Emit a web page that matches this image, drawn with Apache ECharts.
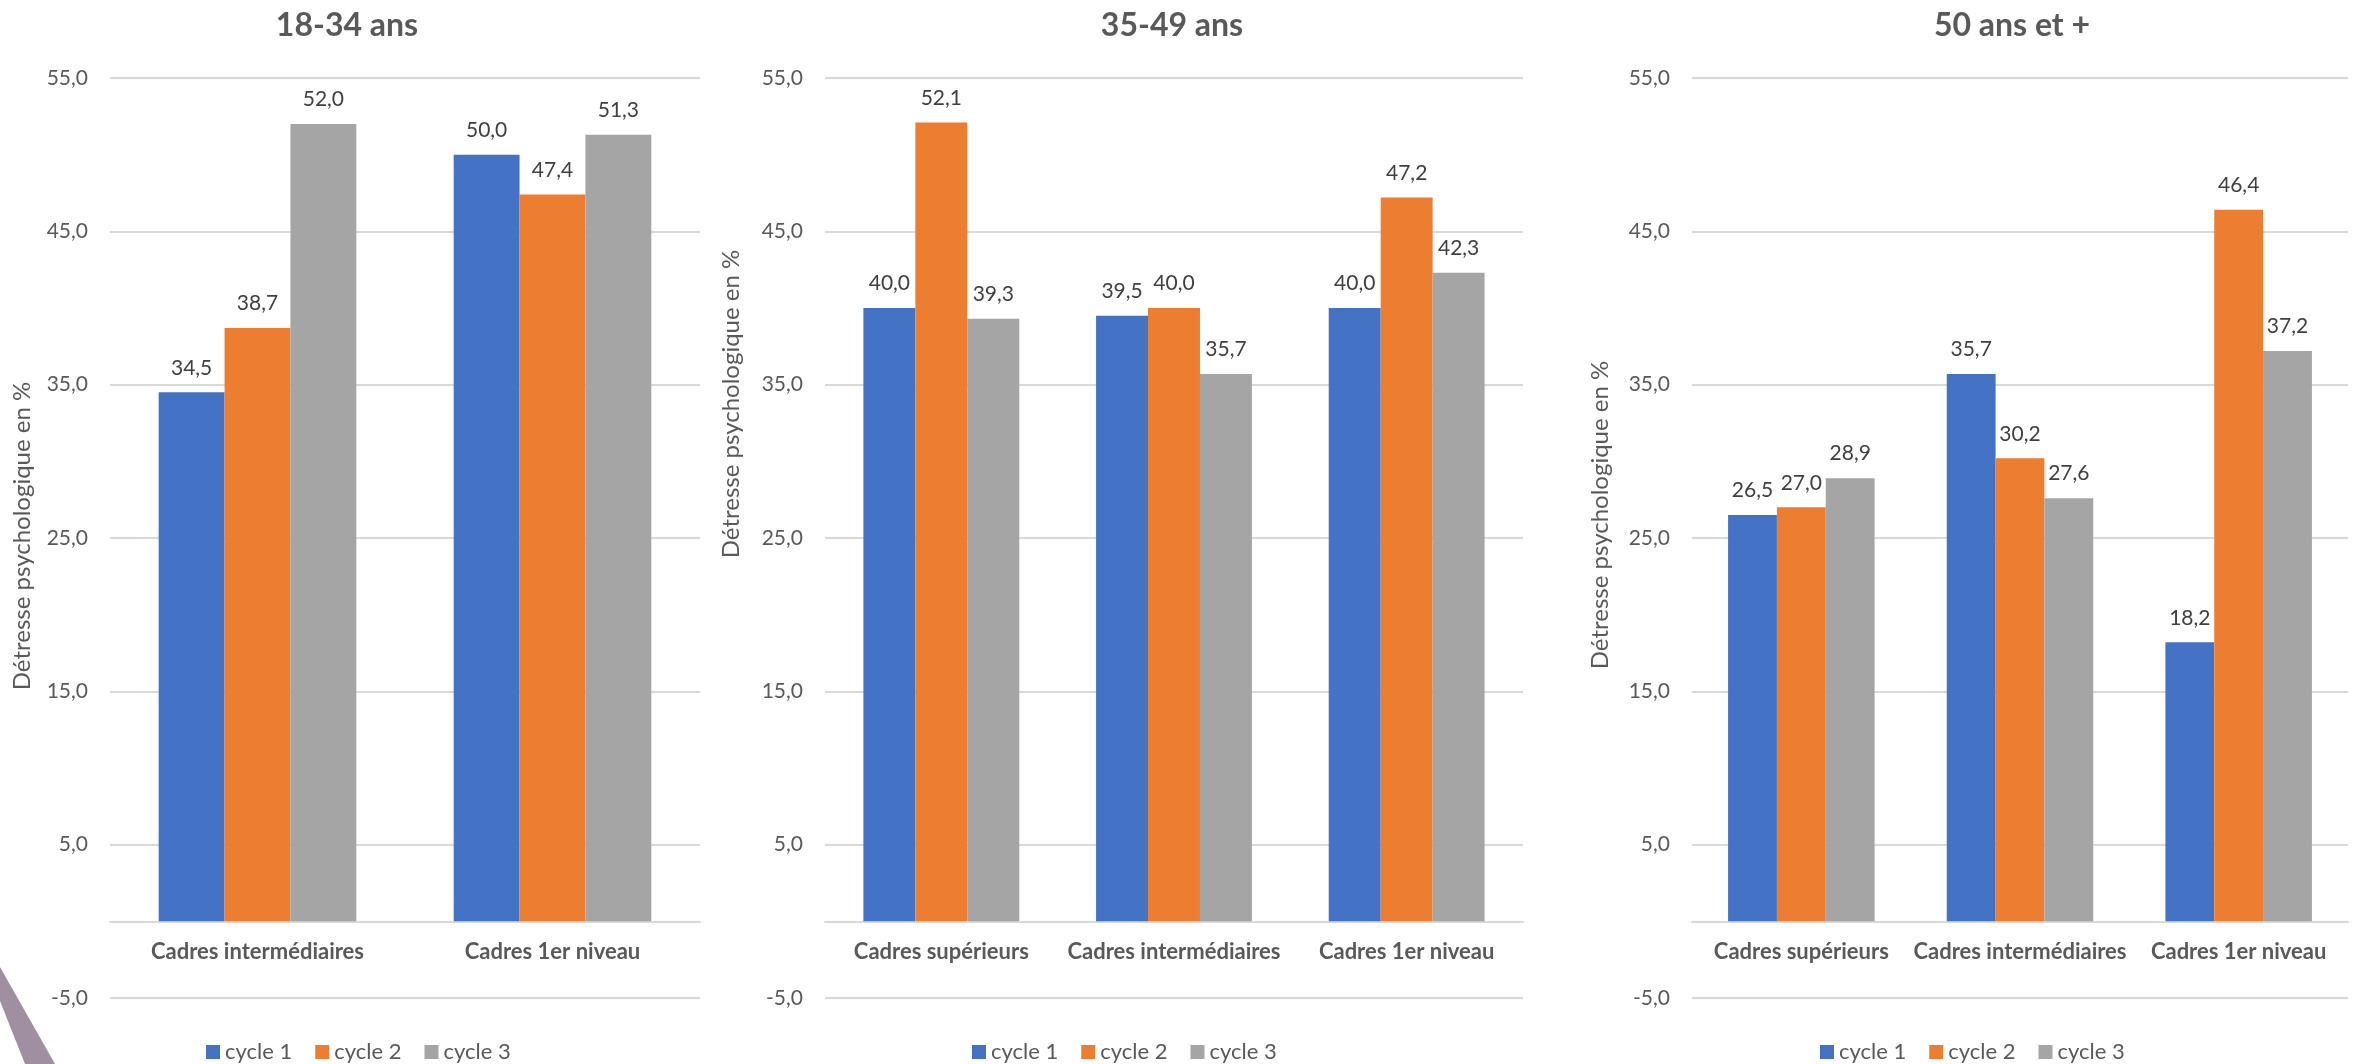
<!DOCTYPE html>
<html>
<head>
<meta charset="utf-8">
<script src="https://cdn.jsdelivr.net/npm/echarts@6/dist/echarts.min.js"></script>
<style>
html,body{margin:0;padding:0;background:#fff;}
#chart{width:2363px;height:1064px;}
</style>
</head>
<body>
<div id="chart"></div>
<script>
// ---- data ----
const panelTitles = ['18-34 ans', '35-49 ans', '50 ans et +'];
const seriesNames = ['cycle 1', 'cycle 2', 'cycle 3'];
const yAxisTitle = 'Détresse psychologique en %';

const categories1834 = ['Cadres intermédiaires', 'Cadres 1er niveau'];
const cycle1_1834 = [34.5, 50.0];
const cycle2_1834 = [38.7, 47.4];
const cycle3_1834 = [52.0, 51.3];

const categories3549 = ['Cadres supérieurs', 'Cadres intermédiaires', 'Cadres 1er niveau'];
const cycle1_3549 = [40.0, 39.5, 40.0];
const cycle2_3549 = [52.1, 40.0, 47.2];
const cycle3_3549 = [39.3, 35.7, 42.3];

const categories50 = ['Cadres supérieurs', 'Cadres intermédiaires', 'Cadres 1er niveau'];
const cycle1_50 = [26.5, 35.7, 18.2];
const cycle2_50 = [27.0, 30.2, 46.4];
const cycle3_50 = [28.9, 27.6, 37.2];

const yTickMin = -5, yTickMax = 55, yTickStep = 10;

// ---- styling / layout ----
const FONT = 'Lato, "Open Sans", sans-serif';
const TXT = '#595959';
const colors = ['#4472C4', '#ED7D31', '#A5A5A5'];
const fmt = v => Number(v).toFixed(1).replace('.', ',');

const GRID_TOP = 78, GRID_H = 920;
// distance from grid bottom (value yTickMin) up to the value-0 line
const zeroOffset = -GRID_H * (0 - yTickMin) / (yTickMax - yTickMin);

const panels = [
  {cats: categories1834, vals: [cycle1_1834, cycle2_1834, cycle3_1834], left: 110, width: 590, titleX: 347, nameX: 22, nameY: 536, legendX: 201},
  {cats: categories3549, vals: [cycle1_3549, cycle2_3549, cycle3_3549], left: 825, width: 698, titleX: 1172, nameX: 731, nameY: 404, legendX: 967},
  {cats: categories50, vals: [cycle1_50, cycle2_50, cycle3_50], left: 1692, width: 656, titleX: 2012, nameX: 1600, nameY: 515, legendX: 1815}
];

const grid = [], xAxis = [], yAxis = [], series = [], title = [], legend = [], graphic = [];
panels.forEach((p, i) => {
  grid.push({left: p.left, width: p.width, top: GRID_TOP, height: GRID_H, containLabel: false});
  xAxis.push({
    type: 'category', gridIndex: i, data: p.cats, position: 'bottom', offset: zeroOffset,
    axisLine: {onZero: false, lineStyle: {color: '#D9D9D9', width: 2}},
    axisTick: {show: false},
    axisLabel: {interval: 0, hideOverlap: false, color: TXT, fontFamily: FONT, fontWeight: 'bold', fontSize: 22, margin: 20}
  });
  yAxis.push({
    type: 'value', gridIndex: i, min: yTickMin, max: yTickMax, interval: yTickStep,
    axisLine: {show: false}, axisTick: {show: false},
    splitLine: {lineStyle: {color: '#D9D9D9', width: 2}},
    axisLabel: {color: TXT, fontFamily: FONT, fontSize: 21, margin: 22, formatter: fmt}
  });
  seriesNames.forEach((name, k) => {
    series.push({
      type: 'bar', name: name, xAxisIndex: i, yAxisIndex: i,
      data: p.vals[k], barGap: '0%', barCategoryGap: '33%',
      itemStyle: {color: colors[k]},
      label: {show: true, position: 'top', distance: 14, color: '#404040', fontFamily: FONT, fontSize: 21, formatter: o => fmt(o.value)},
      emphasis: {disabled: true}
    });
  });
  title.push({
    text: panelTitles[i], left: p.titleX, top: 10, textAlign: 'center', padding: 0,
    textStyle: {color: TXT, fontFamily: FONT, fontWeight: 'bold', fontSize: 32}
  });
  legend.push({
    data: seriesNames, left: p.legendX, top: 1036, icon: 'rect', itemWidth: 14, itemHeight: 14, itemGap: 23,
    selectedMode: false,
    textStyle: {color: TXT, fontFamily: FONT, fontSize: 22}
  });
  graphic.push({
    type: 'text', x: p.nameX, y: p.nameY, rotation: Math.PI / 2,
    style: {text: yAxisTitle, fill: TXT, font: '24px ' + FONT, textAlign: 'center', textVerticalAlign: 'middle'}
  });
});

graphic.push({
  type: 'polygon',
  shape: {points: [[0, 967], [55, 1064], [25, 1064], [0, 1001]]},
  style: {fill: '#9F8FA0'}
});

const chart = echarts.init(document.getElementById('chart'), null, {renderer: 'canvas'});
chart.setOption({
  backgroundColor: '#ffffff',
  animation: false,
  title, legend, grid, xAxis, yAxis, series, graphic
});
</script>
</body>
</html>
